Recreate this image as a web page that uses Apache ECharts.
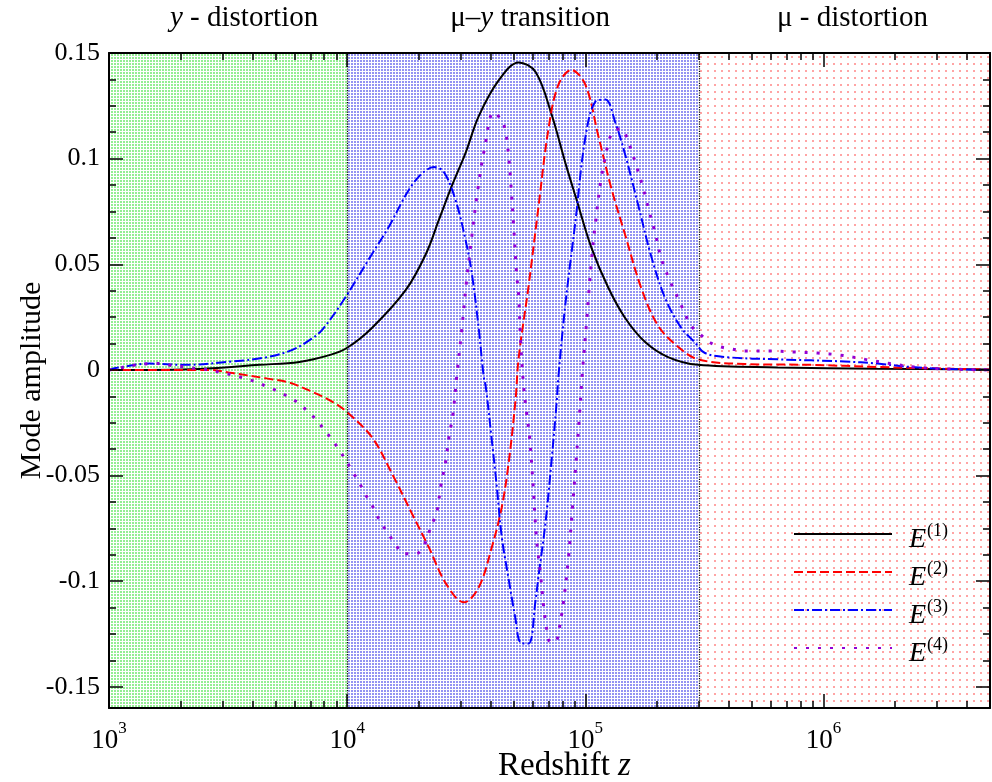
<!DOCTYPE html>
<html>
<head>
<meta charset="utf-8">
<title>Mode amplitude vs redshift</title>
<script src="https://cdn.jsdelivr.net/npm/echarts@6/dist/echarts.min.js"></script>
<style>html,body{margin:0;padding:0;background:#fff}</style>
</head>
<body>
<div id="main" style="width:992px;height:782px"></div>
<script>
// curves: log10(z) and amplitude
var e1LogZ = [3.0, 3.381, 3.632, 3.799, 3.925, 4.0, 4.105, 4.247, 4.331, 4.385, 4.439, 4.498, 4.552, 4.636, 4.720, 4.791, 4.858, 4.916, 4.962, 5.025, 5.096, 5.167, 5.251, 5.347, 5.473, 5.808, 6.226, 6.699];
var e1Amp  = [0, 0.0005, 0.0024, 0.0038, 0.007, 0.0105, 0.020, 0.038, 0.055, 0.071, 0.087, 0.103, 0.120, 0.137, 0.1455, 0.141, 0.121, 0.098, 0.081, 0.058, 0.039, 0.0246, 0.0132, 0.0061, 0.0024, 0.0012, 0.0006, 0.0002];

var e2LogZ = [3.0, 3.423, 3.519, 3.661, 3.757, 3.854, 3.937, 4.0, 4.105, 4.188, 4.272, 4.343, 4.414, 4.490, 4.552, 4.607, 4.649, 4.678, 4.707, 4.720, 4.762, 4.803, 4.845, 4.887, 4.941, 5.0, 5.054, 5.109, 5.167, 5.234, 5.305, 5.389, 5.473, 5.669, 5.946, 6.226, 6.435, 6.699];
var e2Amp  = [0, 0, -0.0015, -0.004, -0.006, -0.0104, -0.015, -0.020, -0.032, -0.049, -0.068, -0.084, -0.101, -0.110, -0.103, -0.084, -0.065, -0.044, -0.014, 0.0057, 0.040, 0.077, 0.114, 0.135, 0.142, 0.135, 0.111, 0.086, 0.064, 0.039, 0.021, 0.011, 0.005, 0.0028, 0.0024, 0.0014, 0.0008, 0.0002];

var e3LogZ = [3.0, 3.033, 3.172, 3.310, 3.519, 3.661, 3.770, 3.854, 3.895, 3.979, 4.105, 4.176, 4.247, 4.289, 4.331, 4.364, 4.406, 4.456, 4.498, 4.523, 4.552, 4.573, 4.582, 4.607, 4.628, 4.649, 4.678, 4.707, 4.728, 4.762, 4.791, 4.803, 4.833, 4.858, 4.879, 4.887, 4.916, 4.958, 5.0, 5.042, 5.084, 5.126, 5.167, 5.222, 5.276, 5.335, 5.402, 5.460, 5.502, 5.598, 5.808, 6.088, 6.226, 6.364, 6.506, 6.699];
var e3Amp  = [0, 0.001, 0.003, 0.0024, 0.004, 0.006, 0.0095, 0.015, 0.019, 0.032, 0.055, 0.068, 0.083, 0.090, 0.0945, 0.096, 0.0937, 0.080, 0.061, 0.046, 0.020, -0.003, -0.008, -0.033, -0.055, -0.079, -0.099, -0.118, -0.129, -0.1295, -0.109, -0.098, -0.072, -0.043, -0.016, -0.003, 0.031, 0.070, 0.110, 0.127, 0.128, 0.117, 0.102, 0.078, 0.054, 0.034, 0.020, 0.013, 0.008, 0.006, 0.005, 0.004, 0.003, 0.0014, 0.0005, 0];

var e4LogZ = [3.0, 3.067, 3.117, 3.172, 3.222, 3.268, 3.326, 3.372, 3.423, 3.473, 3.519, 3.569, 3.619, 3.665, 3.715, 3.757, 3.799, 3.837, 3.874, 3.908, 3.937, 3.967, 3.996, 4.021, 4.050, 4.071, 4.100, 4.121, 4.146, 4.176, 4.205, 4.238, 4.289, 4.322, 4.343, 4.360, 4.377, 4.393, 4.414, 4.427, 4.444, 4.460, 4.481, 4.502, 4.523, 4.548, 4.577, 4.615, 4.649, 4.665, 4.678, 4.686, 4.699, 4.711, 4.720, 4.728, 4.741, 4.753, 4.766, 4.782, 4.795, 4.812, 4.824, 4.837, 4.854, 4.879, 4.891, 4.908, 4.929, 4.946, 4.962, 4.975, 4.987, 5.004, 5.025, 5.046, 5.067, 5.096, 5.117, 5.151, 5.180, 5.213, 5.243, 5.268, 5.293, 5.318, 5.356, 5.397, 5.444, 5.481, 5.523, 5.565, 5.611, 5.669, 5.774, 5.870, 5.975, 6.071, 6.176, 6.280, 6.381, 6.506, 6.699];
var e4Amp  = [0, 0.0014, 0.0024, 0.003, 0.003, 0.002, 0.0014, 0.0005, 0, -0.0014, -0.0024, -0.004, -0.0057, -0.008, -0.0104, -0.013, -0.016, -0.020, -0.024, -0.029, -0.033, -0.038, -0.043, -0.048, -0.053, -0.058, -0.063, -0.068, -0.073, -0.078, -0.083, -0.087, -0.087, -0.083, -0.077, -0.072, -0.067, -0.055, -0.043, -0.032, -0.021, -0.003, 0.019, 0.043, 0.063, 0.085, 0.105, 0.122, 0.118, 0.113, 0.101, 0.090, 0.068, 0.046, 0.035, 0.014, -0.008, -0.020, -0.032, -0.057, -0.080, -0.097, -0.111, -0.122, -0.129, -0.128, -0.122, -0.110, -0.089, -0.065, -0.042, -0.022, -0.002, 0.021, 0.051, 0.073, 0.091, 0.107, 0.113, 0.114, 0.108, 0.097, 0.086, 0.075, 0.065, 0.053, 0.042, 0.032, 0.021, 0.017, 0.013, 0.011, 0.010, 0.009, 0.009, 0.0085, 0.008, 0.007, 0.005, 0.003, 0.0014, 0.0005, 0];

var seriesNames = ['E1', 'E2', 'E3', 'E4'];

// regimes along z
var regionNames = ['{i|y}{n| - distortion}', '{n|\u03bc\u2013}{i|y}{n| transition}', '{n|\u03bc - distortion}'];
var regionEdges = [1e3, 1e4, 3e5, 5e6];

// tick positions
var yMajor = [-0.15, -0.1, -0.05, 0, 0.05, 0.1, 0.15];
var yMinor = [-0.1375, -0.125, -0.1125, -0.0875, -0.075, -0.0625, -0.0375, -0.025, -0.0125,
              0.0125, 0.025, 0.0375, 0.0625, 0.075, 0.0875, 0.1125, 0.125, 0.1375];
var xMajorZ = [1e3, 1e4, 1e5, 1e6];
var xMinorZ = [2e3, 3e3, 4e3, 5e3, 6e3, 7e3, 8e3, 9e3,
               2e4, 3e4, 4e4, 5e4, 6e4, 7e4, 8e4, 9e4,
               2e5, 3e5, 4e5, 5e5, 6e5, 7e5, 8e5, 9e5,
               2e6, 3e6, 4e6];

var serif = 'Liberation Serif';
var zMin = 1e3, zMax = 5e6;
var lgMin = Math.log10(zMin), lgMax = Math.log10(zMax);

function pairs(lz, amp) {
    return lz.map(function (l, i) { return [Math.pow(10, l), amp[i]]; });
}

function dots(size, dot, color) {
    var c = document.createElement('canvas');
    c.width = size; c.height = size;
    var g = c.getContext('2d');
    g.fillStyle = '#fff';
    g.fillRect(0, 0, size, size);
    g.fillStyle = color;
    g.fillRect(0, 0, dot, dot);
    return { image: c, repeat: 'repeat' };
}
var fills = [dots(3, 2, '#94ee94'), dots(3, 2, '#9494f2'), dots(7, 2, '#ffa4a4')];

var chart = echarts.init(document.getElementById('main'));

function minorAxis(pos, isY, vals) {
    return {
        type: 'value', position: pos, z: 10,
        min: isY ? -0.16 : lgMin, max: isY ? 0.15 : lgMax,
        axisLine: { show: false, onZero: false },
        axisTick: { show: true, inside: true, length: 7, customValues: vals, lineStyle: { color: '#000', width: 1.5 } },
        axisLabel: { show: false },
        splitLine: { show: false }
    };
}
function frameAxis(pos, isY, vals) {
    var a = minorAxis(pos, isY, vals);
    a.axisLine = { show: true, onZero: false, lineStyle: { color: '#000', width: 2 } };
    a.axisTick.length = 14;
    return a;
}

function serifRich(size) {
    return {
        n: { fontFamily: serif, fontSize: size, color: '#000' },
        i: { fontFamily: serif, fontSize: size, fontStyle: 'italic', color: '#000' }
    };
}

var lineStyles = [
    { color: '#000000', width: 2, type: 'solid' },
    { color: '#ff0000', width: 2, type: [9, 4] },
    { color: '#0000ff', width: 2, type: [10, 3, 2, 3] },
    { color: '#9400d3', width: 3, type: [3, 9] }
];
var curveData = [pairs(e1LogZ, e1Amp), pairs(e2LogZ, e2Amp), pairs(e3LogZ, e3Amp), pairs(e4LogZ, e4Amp)];
var labelShift = [[16, 0], [7, 0], [8, 0]];

var series = [{
    name: 'regions', type: 'line', data: [], z: 1, silent: true,
    markArea: {
        silent: true,
        data: regionNames.map(function (nm, k) {
            return [{
                name: nm, xAxis: regionEdges[k],
                itemStyle: { color: fills[k] },
                label: { show: true, position: 'top', distance: 20, offset: labelShift[k],
                         formatter: nm, rich: serifRich(29) }
            }, { xAxis: regionEdges[k + 1] }];
        })
    },
    markLine: {
        silent: true, symbol: 'none', animation: false,
        label: { show: false },
        lineStyle: { type: 'dotted', color: '#000', width: 1.2 },
        data: [{ xAxis: regionEdges[1] }, { xAxis: regionEdges[2] }]
    }
}];
seriesNames.forEach(function (nm, k) {
    series.push({
        name: nm, type: 'line', data: curveData[k], z: 3 + k,
        showSymbol: false, symbol: 'none', smooth: 0.35,
        lineStyle: lineStyles[k], itemStyle: { color: lineStyles[k].color }
    });
});

var option = {
    animation: false,
    grid: { left: 109, right: 2, top: 53, bottom: 74, containLabel: false, outerBoundsMode: 'none' },
    legend: {
        orient: 'vertical', left: 793, top: 522, padding: 0,
        itemWidth: 98, itemHeight: 14, itemGap: 6,
        selectedMode: false, data: seriesNames,
        itemStyle: { opacity: 0 },
        formatter: function (n) { return '{e|E}{s|(' + n.slice(1) + ')}'; },
        textStyle: {
            padding: [10, 0, 0, 12],
            rich: {
                e: { fontFamily: serif, fontStyle: 'italic', fontSize: 28, lineHeight: 30, color: '#000', verticalAlign: 'bottom' },
                s: { fontFamily: serif, fontSize: 18, lineHeight: 18, color: '#000', padding: [0, 0, 14, 1], verticalAlign: 'bottom' }
            }
        }
    },
    xAxis: [
        {
            type: 'log', logBase: 10, min: zMin, max: zMax, position: 'bottom', z: 10,
            axisLine: { show: true, onZero: false, lineStyle: { color: '#000', width: 2 } },
            axisTick: { show: true, inside: true, length: 14, customValues: xMajorZ, lineStyle: { color: '#000', width: 1.5 } },
            axisLabel: {
                interval: 0, margin: 12, showMaxLabel: false, color: '#000',
                formatter: function (v) { return '{b|10}{s|' + Math.round(Math.log10(v)) + '}'; },
                rich: {
                    b: { fontFamily: serif, fontSize: 27, lineHeight: 34, verticalAlign: 'bottom', color: '#000' },
                    s: { fontFamily: serif, fontSize: 17, lineHeight: 18, verticalAlign: 'top', color: '#000' }
                }
            },
            splitLine: { show: false },
            name: '{n|Redshift }{i|z}', nameLocation: 'middle', nameGap: 42, nameMoveOverlap: false,
            nameTextStyle: { padding: [0, 0, 0, 30], rich: serifRich(33) }
        },
        minorAxis('bottom', false, xMinorZ.map(Math.log10)),
        frameAxis('top', false, xMajorZ.map(Math.log10)),
        minorAxis('top', false, xMinorZ.map(Math.log10))
    ],
    yAxis: [
        {
            type: 'value', min: -0.16, max: 0.15, position: 'left', z: 10,
            axisLine: { show: true, onZero: false, lineStyle: { color: '#000', width: 2 } },
            axisTick: { show: true, inside: true, length: 14, customValues: yMajor, lineStyle: { color: '#000', width: 1.5 } },
            axisLabel: {
                customValues: yMajor, margin: 9, color: '#000', fontFamily: serif, fontSize: 26,
                formatter: function (v) { return String(v); }
            },
            splitLine: { show: false },
            name: 'Mode amplitude', nameLocation: 'middle', nameGap: 62, nameMoveOverlap: false,
            nameTextStyle: { fontFamily: serif, fontSize: 30, color: '#000' }
        },
        minorAxis('left', true, yMinor),
        frameAxis('right', true, yMajor),
        minorAxis('right', true, yMinor)
    ],
    series: series
};
chart.setOption(option);
</script>
</body>
</html>
